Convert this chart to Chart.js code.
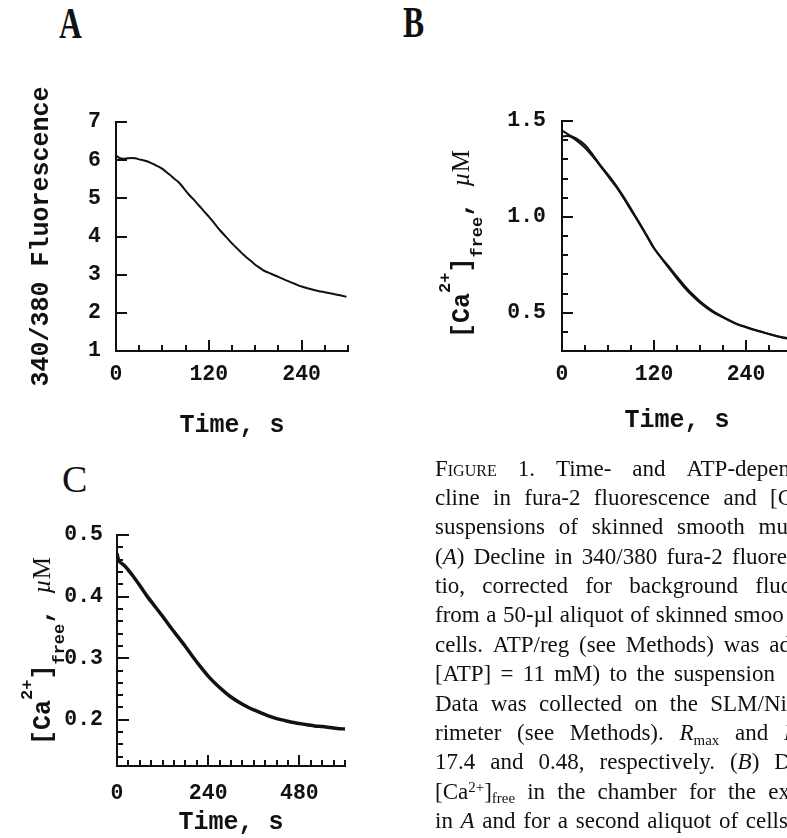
<!DOCTYPE html>
<html>
<head>
<meta charset="utf-8">
<script src="https://cdn.jsdelivr.net/npm/chart.js@4.4.0/dist/chart.umd.min.js"></script>
<style>
html,body{margin:0;padding:0;background:#fff;}
body{width:787px;height:838px;overflow:hidden;position:relative;}
canvas{position:absolute;}
.letter{position:absolute;font-family:"Liberation Serif",serif;line-height:1;color:#111;transform-origin:0 0;white-space:nowrap;}
.ytitle{position:absolute;transform:rotate(-90deg);transform-origin:0 0;white-space:nowrap;line-height:1;font-family:"Liberation Mono",monospace;font-weight:bold;font-size:25px;color:#111;}
.ytitle .up{position:relative;font-size:17px;line-height:0;}
.ytitle .dn{position:relative;font-size:17px;line-height:0;}
.ytitle .unit{font-family:"Liberation Serif",serif;font-weight:normal;font-size:25px;}
.caption{position:absolute;left:435px;top:453.5px;font-family:"Liberation Serif",serif;font-size:23px;line-height:29.4px;color:#111;}
.caption div{height:29.4px;white-space:nowrap;}
.caption .sc{font-variant:small-caps;}
.caption .sp{position:relative;top:-0.45em;font-size:0.65em;line-height:0;}
.caption .sb{position:relative;top:0.3em;font-size:0.65em;line-height:0;}
.caption .gap{display:inline-block;}
</style>
</head>
<body>
<div class="letter" style="left:58.5px;top:2.3px;font-size:44px;font-weight:bold;transform:scaleX(0.72);">A</div>
<div class="letter" style="left:402.5px;top:1.3px;font-size:44px;font-weight:bold;transform:scaleX(0.72);">B</div>
<div class="letter" style="left:62px;top:460.4px;font-size:38px;">C</div>

<canvas id="chartA" width="360" height="380" style="left:0px;top:80px;width:360px;height:380px;"></canvas>
<canvas id="chartB" width="380" height="380" style="left:430px;top:80px;width:380px;height:380px;"></canvas>
<canvas id="chartC" width="360" height="358" style="left:0px;top:480px;width:360px;height:358px;"></canvas>

<div class="ytitle" style="left:448px;top:338px;">[Ca<span class="up" style="top:-19px;">2+</span>]<span class="dn" style="top:13px;">free</span>, <span class="unit"><i>&micro;</i>M</span></div>
<div class="ytitle" style="left:29px;top:745px;">[Ca<span class="up" style="top:-18px;">2+</span>]<span class="dn" style="top:14px;">free</span>, <span class="unit"><i>&micro;</i>M</span></div>

<div class="caption" id="caption">
  <div data-w="355"><span class="sc">Figure</span> 1. Time- and ATP-depen</div>
  <div data-w="358">cline in fura-2 fluorescence and [C</div>
  <div data-w="353">suspensions of skinned smooth mu</div>
  <div data-w="352">(<i>A</i>) Decline in 340/380 fura-2 fluore</div>
  <div data-w="356">tio, corrected for background fluc</div>
  <div data-w="340" data-gap="6.5">from a 50-&micro;l aliquot of skinned smoo</div>
  <div data-w="356">cells. ATP/reg (see Methods) was ad</div>
  <div data-w="340">[ATP] = 11 mM) to the suspension</div>
  <div data-w="352">Data was collected on the SLM/Ni</div>
  <div data-w="363">rimeter (see Methods). <i>R</i><span class="sb">max</span> and <i>R</i></div>
  <div data-w="356">17.4 and 0.48, respectively. (<i>B</i>) D</div>
  <div data-w="355">[Ca<span class="sp">2+</span>]<span class="sb">free</span> in the chamber for the ex</div>
  <div data-w="353">in <i>A</i> and for a second aliquot of cells</div>
</div>

<script>
// ---------------- DATA ----------------
// Panel A: 340/380 fluorescence ratio vs time (s)
const timeA = [0,5,10,15,20,25,30,35,40,45,50,55,60,65,70,75,80,85,90,95,100,105,110,115,120,125,130,135,140,145,150,155,160,165,170,175,180,185,190,195,200,210,220,230,240,250,260,270,280,290,298];
const ratioA = [6.12,6.05,6.04,6.05,6.06,6.05,6.02,6.00,5.97,5.93,5.88,5.83,5.77,5.69,5.61,5.52,5.44,5.33,5.20,5.08,4.98,4.86,4.75,4.63,4.52,4.40,4.27,4.15,4.04,3.93,3.82,3.72,3.62,3.52,3.43,3.35,3.26,3.19,3.12,3.07,3.03,2.94,2.85,2.77,2.69,2.63,2.58,2.54,2.50,2.46,2.42];

// Panel B: [Ca2+]free (uM) vs time (s), two aliquots
const timeB = [0,10,20,30,40,50,60,70,80,90,100,110,120,130,140,150,160,170,180,190,200,210,220,230,240,250,260,270,280,290,300];
const caB1 = [1.45,1.425,1.405,1.375,1.325,1.27,1.22,1.167,1.107,1.042,0.975,0.908,0.838,0.782,0.73,0.678,0.63,0.588,0.552,0.521,0.495,0.475,0.455,0.437,0.424,0.411,0.40,0.389,0.378,0.37,0.362];
const caB2 = [1.42,1.42,1.395,1.36,1.315,1.265,1.212,1.16,1.10,1.035,0.97,0.903,0.835,0.785,0.738,0.688,0.64,0.597,0.56,0.528,0.50,0.478,0.457,0.439,0.425,0.412,0.40,0.388,0.377,0.368,0.36];

// Panel C: [Ca2+]free (uM) vs time (s)
const timeC = [0,5,20,40,60,80,100,120,140,160,180,200,220,240,260,280,300,320,340,360,380,400,420,440,460,480,500,520,540,560,580,600];
const caC = [0.47,0.458,0.450,0.435,0.418,0.400,0.384,0.368,0.351,0.335,0.319,0.302,0.286,0.271,0.258,0.247,0.237,0.229,0.222,0.216,0.211,0.206,0.202,0.199,0.196,0.194,0.192,0.190,0.189,0.1875,0.186,0.185];

// Tick marks (all) and labelled ticks
const xTicksAB = [0,30,60,90,120,150,180,210,240,270,300];
const xLabelsAB = [0,120,240];
const yTicksA = [1,2,3,4,5,6,7];
const yLabelsA = [1,2,3,4,5,6,7];
const yTicksB = [0.4,0.5,0.6,0.7,0.8,0.9,1.0,1.1,1.2,1.3,1.4,1.5];
const yLabelsB = [0.5,1.0,1.5];
const xTicksC = [0,30,60,90,120,150,180,210,240,270,300,330,360,390,420,450,480,510,540,570,600];
const xLabelsC = [0,240,480];
const yTicksC = [0.14,0.16,0.18,0.2,0.22,0.24,0.26,0.28,0.3,0.32,0.34,0.36,0.38,0.4,0.42,0.44,0.46,0.48,0.5];
const yLabelsC = [0.2,0.3,0.4,0.5];

// ---------------- CAPTION JUSTIFICATION ----------------
const SPACE_RE = /[\s\u00a0\u1680\u2000-\u200b\u202f\u205f\u3000]+/g;
const captionLines = [];
document.querySelectorAll('#caption > div').forEach(div => {
  const gaps = [];
  const walker = document.createTreeWalker(div, NodeFilter.SHOW_TEXT);
  const textNodes = [];
  while (walker.nextNode()) textNodes.push(walker.currentNode);
  textNodes.forEach(node => {
    const parts = node.nodeValue.replace(SPACE_RE, ' ').split(' ');
    if (parts.length < 2) return;
    const frag = document.createDocumentFragment();
    parts.forEach((p, i) => {
      if (i > 0) {
        const g = document.createElement('span');
        g.className = 'gap';
        g.textContent = '\u00a0';
        frag.appendChild(g);
        gaps.push(g);
      }
      if (p) frag.appendChild(document.createTextNode(p));
    });
    node.parentNode.replaceChild(frag, node);
  });
  const inner = document.createElement('span');
  while (div.firstChild) inner.appendChild(div.firstChild);
  div.appendChild(inner);
  captionLines.push({inner: inner, gaps: gaps, target: parseFloat(div.dataset.w),
                     fixedGap: div.dataset.gap ? parseFloat(div.dataset.gap) : null});
});
function justifyCaption() {
  captionLines.forEach(line => {
    if (!line.gaps.length) return;
    if (line.fixedGap !== null) {
      line.gaps.forEach(g => { g.style.width = line.fixedGap + 'px'; });
      return;
    }
    line.gaps.forEach(g => { g.style.width = ''; });
    const natural = line.inner.getBoundingClientRect().width;
    const gapW = line.gaps.reduce((s, g) => s + g.getBoundingClientRect().width, 0);
    const each = Math.max(2, (line.target - natural + gapW) / line.gaps.length);
    line.gaps.forEach(g => { g.style.width = each + 'px'; });
  });
}
justifyCaption();
if (document.fonts && document.fonts.ready) document.fonts.ready.then(justifyCaption);

// ---------------- RENDER ----------------
const INK = '#111';
const MONO = '"Liberation Mono", "DejaVu Sans Mono", monospace';

const inwardTicks = {
  id: 'inwardTicks',
  afterDraw(chart, args, opts) {
    const ctx = chart.ctx, area = chart.chartArea;
    ctx.save();
    ctx.strokeStyle = INK;
    ctx.lineWidth = 2;
    ['x','y'].forEach(id => {
      const scale = chart.scales[id];
      const cfg = opts[id];
      scale.ticks.forEach(t => {
        const major = cfg.major.includes(t.value);
        const len = major ? cfg.majorLen : cfg.minorLen;
        const p = Math.round(scale.getPixelForValue(t.value));
        ctx.beginPath();
        if (id === 'x') { ctx.moveTo(p, area.bottom); ctx.lineTo(p, area.bottom - len); }
        else { ctx.moveTo(area.left, p); ctx.lineTo(area.left + len, p); }
        ctx.stroke();
      });
    });
    ctx.restore();
  }
};

function series(xs, ys) { return xs.map((x, i) => ({x: x, y: ys[i]})); }

function makeChart(id, cfg) {
  const datasets = cfg.series.map(s => ({
    data: series(s.x, s.y),
    borderColor: INK,
    borderWidth: cfg.lineWidth,
    pointRadius: 0,
    tension: 0.25,
    fill: false
  }));
  return new Chart(document.getElementById(id), {
    type: 'line',
    data: { datasets: datasets },
    plugins: [inwardTicks],
    options: {
      responsive: false,
      animation: false,
      devicePixelRatio: 1,
      layout: { padding: cfg.padding },
      plugins: {
        legend: { display: false },
        tooltip: { enabled: false },
        inwardTicks: {
          x: { major: cfg.xLabels, majorLen: 11, minorLen: 6 },
          y: { major: cfg.yLabels, majorLen: cfg.yMajorLen, minorLen: 6 }
        }
      },
      scales: {
        x: {
          type: 'linear',
          min: cfg.xMin, max: cfg.xMax,
          afterBuildTicks: s => { s.ticks = cfg.xTicks.map(v => ({value: v})); },
          afterFit: s => { s.height = cfg.xHeight; },
          grid: { display: false, drawTicks: false },
          border: { display: true, color: INK, width: 2 },
          ticks: {
            autoSkip: false, maxRotation: 0, minRotation: 0,
            padding: cfg.xPad, color: INK,
            font: { family: MONO, size: 21.5, weight: 'bold' },
            callback: v => cfg.xLabels.includes(v) ? String(v) : ''
          },
          title: {
            display: true, text: 'Time, s', color: INK,
            font: { family: MONO, size: 25, weight: 'bold' },
            padding: { top: 0, bottom: cfg.xTitlePad }
          }
        },
        y: {
          type: 'linear',
          min: cfg.yMin, max: cfg.yMax,
          afterBuildTicks: s => { s.ticks = cfg.yTicks.map(v => ({value: v})); },
          afterFit: s => { s.width = cfg.yWidth; },
          grid: { display: false, drawTicks: false },
          border: { display: true, color: INK, width: 2 },
          ticks: {
            autoSkip: false, padding: cfg.yPad, color: INK,
            font: { family: MONO, size: 21.5, weight: 'bold' },
            callback: v => cfg.yLabels.includes(v) ? cfg.yFmt(v) : ''
          },
          title: cfg.yTitle ? {
            display: true, text: cfg.yTitle, color: INK,
            font: { family: MONO, size: 25, weight: 'bold' },
            padding: { top: cfg.yTitlePad, bottom: 0 }
          } : { display: false }
        }
      }
    }
  });
}

makeChart('chartA', {
  series: [{x: timeA, y: ratioA}], lineWidth: 2,
  padding: { top: 42, right: 12, bottom: 0, left: 0 },
  xMin: 0, xMax: 300, xTicks: xTicksAB, xLabels: xLabelsAB, xHeight: 109, xPad: 11, xTitlePad: 19,
  yMin: 1, yMax: 7, yTicks: yTicksA, yLabels: yLabelsA, yWidth: 116, yPad: 15, yMajorLen: 11,
  yFmt: v => String(v), yTitle: '340/380 Fluorescence', yTitlePad: 27
});

makeChart('chartB', {
  series: [{x: timeB, y: caB1}, {x: timeB, y: caB2}], lineWidth: 2,
  padding: { top: 41, right: 18, bottom: 0, left: 0 },
  xMin: 0, xMax: 300, xTicks: xTicksAB, xLabels: xLabelsAB, xHeight: 109, xPad: 11, xTitlePad: 24,
  yMin: 0.3, yMax: 1.5, yTicks: yTicksB, yLabels: yLabelsB, yWidth: 132, yPad: 16, yMajorLen: 11,
  yFmt: v => v.toFixed(1), yTitle: null
});

makeChart('chartC', {
  series: [{x: timeC, y: caC}], lineWidth: 3.5,
  padding: { top: 55, right: 11, bottom: 0, left: 0 },
  xMin: 0, xMax: 600, xTicks: xTicksC, xLabels: xLabelsC, xHeight: 72, xPad: 15, xTitlePad: 0,
  yMin: 0.125, yMax: 0.5, yTicks: yTicksC, yLabels: yLabelsC, yWidth: 117, yPad: 14, yMajorLen: 12,
  yFmt: v => v.toFixed(1), yTitle: null
});
</script>
</body>
</html>
